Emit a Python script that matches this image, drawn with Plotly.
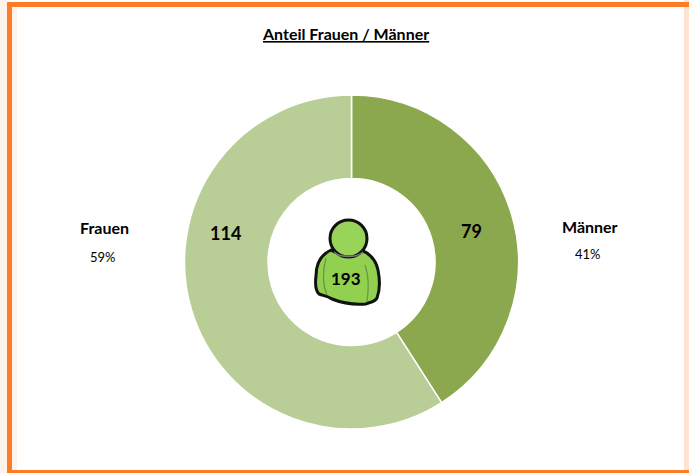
import plotly.graph_objects as go

categories = ["Männer", "Frauen"]
values = [79, 114]
percents = ["41%", "59%"]
total = "193"
title = "Anteil Frauen / Männer"
colors = ["#8BA84F", "#B9CE96"]

W, H = 689, 473
FONT = "Lato, Carlito, Liberation Sans, sans-serif"

def px(x): return x / W
def py(y): return 1 - y / H

def pth(s):
    # tokens: letters stay, pairs of numbers are pixel positions -> paper coordinates
    out, toks, i = [], s.split(), 0
    while i < len(toks):
        t = toks[i]
        if t.isalpha():
            out.append(t); i += 1
        else:
            out.append(f"{px(float(t)):.5f},{py(float(toks[i+1])):.5f}"); i += 2
    return " ".join(out)

fig = go.Figure(go.Pie(
    labels=categories, values=values, hole=0.5, sort=False, direction="clockwise",
    rotation=0, textinfo="none", hoverinfo="label+value+percent",
    marker=dict(colors=colors, line=dict(color="#FFFFFF", width=1.5)),
    domain=dict(x=[px(184.5), px(518.5)], y=[py(429), py(95)]), showlegend=False,
))

def rect(x0, y0, x1, y1, c):
    return dict(type="rect", xref="paper", yref="paper", layer="below",
                x0=px(x0), x1=px(x1), y0=py(y0), y1=py(y1),
                fillcolor=c, line_width=0)

shapes = [
    rect(0, 0, 7, 473, "#FEF3EA"),
    rect(12, 7, 17, 470, "#FEF3EA"),
    rect(684, 0, 689, 473, "#FDE4D2"),
    rect(7, 2, 689, 7, "#FF7C26"),
    rect(7, 2, 12, 473, "#FF7C26"),
    rect(12, 470, 689, 473, "#FF7C26"),
]
body = "M 331 250 C 320 255 316 264 316 276 C 315 284 316 291 319 294 C 324 296 328 296 332 299 C 342 303 354 305 366 304 C 370 302 375 302 377 298 C 380 290 380 280 378 270 C 376 260 371 254 361 250 C 352 256 340 256 331 250 Z"
shapes.append(dict(type="path", xref="paper", yref="paper", path=pth(body),
                   fillcolor="#92D050", line=dict(color="#111111", width=3)))
for seg in ["M 326 258 C 322 272 323 286 327 295", "M 365 265 C 369 276 369 288 367 302"]:
    shapes.append(dict(type="path", xref="paper", yref="paper", path=pth(seg),
                       line=dict(color="#6E8F4A", width=1.2)))
shapes.append(dict(type="circle", xref="paper", yref="paper",
                   x0=px(330), x1=px(367), y0=py(257), y1=py(220),
                   fillcolor="#98D458", line=dict(color="#111111", width=3)))
shapes.append(dict(type="path", xref="paper", yref="paper",
                   path=pth("M 334 252 C 341 258 356 258 363 252"),
                   line=dict(color="#777777", width=1.5)))

def note(x, y, text, size, bold=False, color="#000000"):
    t = f"<b>{text}</b>" if bold else text
    return dict(x=px(x), y=py(y), xref="paper", yref="paper", text=t, showarrow=False,
                xanchor="center", yanchor="middle",
                font=dict(family=FONT, size=size, color=color))

annotations = [
    note(345, 33, f"<u>{title}</u>", 16, True),
    note(471, 231, str(values[0]), 18, True),
    note(225, 233, str(values[1]), 18, True),
    note(346, 278, total, 17, True),
    note(590, 226, categories[0], 16, True),
    note(588, 254, percents[0], 13),
    note(105, 227, categories[1], 16, True),
    note(103, 257, percents[1], 13),
]

fig.update_layout(width=W, height=H, margin=dict(l=0, r=0, t=0, b=0),
                  paper_bgcolor="#FFFFFF", shapes=shapes, annotations=annotations)
fig.write_html("out.html", config=dict(displayModeBar=False),
               post_script="document.body.style.margin='0';document.documentElement.style.overflow='hidden';")
